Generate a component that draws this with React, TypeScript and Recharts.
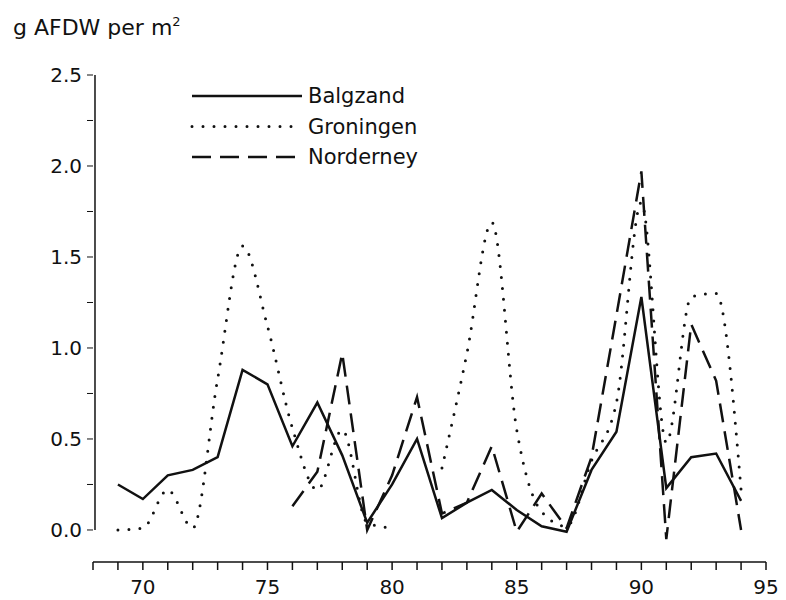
import React from "react";
import { LineChart, Line, XAxis, YAxis, ReferenceLine } from "recharts";

// years 1969-1994, values in g AFDW per m2
const years = [69, 70, 71, 72, 73, 74, 75, 76, 77, 78, 79, 80, 81, 82, 83, 84, 85, 86, 87, 88, 89, 90, 91, 92, 93, 94];
const balgzand = [0.25, 0.17, 0.3, 0.33, 0.4, 0.88, 0.8, 0.46, 0.7, 0.41, 0.04, 0.25, 0.5, 0.065, 0.15, 0.22, 0.11, 0.02, -0.01, 0.33, 0.54, 1.28, 0.23, 0.4, 0.42, 0.16];
const groningen = [0.0, 0.01, 0.22, 0.01, 0.83, 1.56, 1.12, 0.56, 0.22, 0.55, 0.04, 0.01, null, 0.34, 0.97, 1.69, 0.55, 0.1, 0.02, 0.38, 0.7, 1.8, 0.48, 1.28, 1.3, 0.22];
const norderney = [null, null, null, null, null, null, null, 0.13, 0.32, 0.97, 0.0, 0.3, 0.73, 0.09, 0.15, 0.46, -0.01, 0.2, 0.01, 0.4, 1.18, 1.97, -0.05, 1.13, 0.82, 0.0];

const xTicks = [68, 69, 70, 71, 72, 73, 74, 75, 76, 77, 78, 79, 80, 81, 82, 83, 84, 85, 86, 87, 88, 89, 90, 91, 92, 93, 94, 95];
const yTicks = [0, 0.25, 0.5, 0.75, 1, 1.25, 1.5, 1.75, 2, 2.25, 2.5];

const data = years.map((y, i) => ({
  year: y,
  balgzand: balgzand[i],
  groningen: groningen[i],
  norderney: norderney[i],
}));

const INK = "#111";
const FONT = "'DejaVu Sans', sans-serif";

const legendItems = [
  { label: "Balgzand", dash: undefined as string | undefined, cap: "butt" as const, w: 2.5 },
  { label: "Groningen", dash: "0 11", cap: "round" as const, w: 3 },
  { label: "Norderney", dash: "19 9", cap: "butt" as const, w: 2.5 },
];

export default function App() {
  return (
    <div style={{ position: "absolute", left: 0, top: 0, width: 786, height: 600, background: "#fff" }}>
      <LineChart width={786} height={600} data={data} margin={{ top: 75, right: 20, bottom: 8, left: 33 }}>
        <XAxis
          dataKey="year"
          type="number"
          domain={[68, 95]}
          ticks={xTicks}
          interval={0}
          tickFormatter={(v) => (v % 5 === 0 ? String(v) : "")}
          stroke={INK}
          strokeWidth={1.5}
          tickSize={8}
          tickMargin={10}
          height={30}
          tick={{ fill: INK, fontSize: 20, fontFamily: FONT }}
        />
        <YAxis
          type="number"
          domain={[-0.176, 2.5]}
          ticks={yTicks}
          interval={0}
          allowDataOverflow
          axisLine={false}
          tickFormatter={(v) => (Math.round(v * 100) % 50 === 0 ? v.toFixed(1) : "")}
          stroke={INK}
          tickSize={6}
          tickMargin={5}
          width={60}
          tick={{ fill: INK, fontSize: 20, fontFamily: FONT }}
        />
        <ReferenceLine segment={[{ x: 68.08, y: 0 }, { x: 68.08, y: 2.5 }]} stroke={INK} strokeWidth={1.5} />
        <Line
          dataKey="groningen"
          type="monotone"
          stroke={INK}
          strokeWidth={3}
          strokeDasharray="0 11"
          strokeLinecap="round"
          dot={false}
          isAnimationActive={false}
        />
        <Line
          dataKey="norderney"
          type="linear"
          stroke={INK}
          strokeWidth={2.5}
          strokeDasharray="19 9"
          dot={false}
          isAnimationActive={false}
        />
        <Line
          dataKey="balgzand"
          type="linear"
          stroke={INK}
          strokeWidth={2.5}
          dot={false}
          isAnimationActive={false}
        />
      </LineChart>

      {/* title + legend */}
      <svg width={786} height={200} style={{ position: "absolute", left: 0, top: 0, pointerEvents: "none" }}>
        <text x={13} y={35} fontSize={22} fontFamily={FONT} fill={INK}>
          g AFDW per m<tspan dy={-9} fontSize={13}>2</tspan>
        </text>
        {legendItems.map((it, i) => {
          const y = 96 + i * 30.5;
          return (
            <g key={it.label}>
              <line x1={192} x2={302} y1={y} y2={y} stroke={INK} strokeWidth={it.w} strokeDasharray={it.dash} strokeLinecap={it.cap} />
              <text x={308} y={y + 7} fontSize={21} fontFamily={FONT} fill={INK}>
                {it.label}
              </text>
            </g>
          );
        })}
      </svg>
    </div>
  );
}
